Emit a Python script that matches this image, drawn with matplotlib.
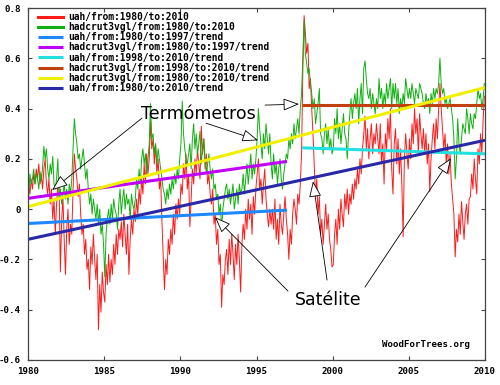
import numpy as np
import matplotlib
matplotlib.use("Agg")
import matplotlib.pyplot as plt

# uah monthly anomalies 1980-2009
uah = [
    0.10, 0.06, 0.12, 0.08, 0.14, 0.10, 0.16, 0.12, 0.18, 0.10, 0.14, 0.08,
    0.16, 0.20, 0.10, 0.06, 0.12, 0.02, 0.08, -0.04, 0.04, -0.10, 0.02, 0.10,
    0.10, -0.25, -0.05, 0.05, -0.12, -0.26, -0.08, 0.00, -0.14, -0.06, -0.10, 0.08,
    0.22, 0.16, 0.12, 0.05, 0.10, -0.02, -0.10, -0.06, -0.18, -0.12, -0.24, -0.20,
    -0.32, -0.15, -0.22, -0.10, -0.20, -0.28, -0.18, -0.48, -0.30, -0.41, -0.25, -0.33,
    -0.37, -0.22, -0.30, -0.18, -0.29, -0.20, -0.26, -0.14, -0.22, -0.10, -0.18, -0.08,
    -0.12, -0.05, -0.15, -0.02, -0.10, -0.18, -0.06, -0.26, -0.12, -0.04, -0.10, 0.00,
    -0.05, 0.04, -0.02, 0.08, 0.02, 0.12, 0.06, 0.18, 0.10, 0.22, 0.14, 0.20,
    0.35, 0.24, 0.28, 0.18, 0.26, 0.14, 0.20, 0.08, 0.12, -0.05, -0.18, -0.32,
    -0.20, -0.26, -0.12, -0.18, -0.08, -0.14, -0.02, -0.10, 0.02, -0.04, 0.04, -0.02,
    0.10, 0.06, 0.18, 0.12, 0.22, 0.08, 0.14, -0.07, 0.04, 0.16, 0.10, 0.20,
    0.14, 0.24, 0.18, 0.12, 0.33, 0.22, 0.28, 0.16, 0.22, 0.10, 0.14, 0.06,
    0.02, 0.08, -0.06, -0.02, -0.14, -0.08, -0.22, -0.18, -0.39, -0.26, -0.30, -0.20,
    -0.16, -0.26, -0.12, -0.22, -0.10, -0.18, -0.28, -0.14, -0.22, -0.10, -0.20, -0.33,
    -0.14, -0.06, -0.12, 0.00, -0.08, 0.04, -0.04, 0.02, -0.10, 0.05, -0.02, 0.08,
    0.14, 0.20, 0.08, 0.12, 0.02, 0.10, 0.16, 0.04, -0.02, -0.07, 0.00, -0.06,
    0.00, -0.08, 0.04, -0.12, -0.04, -0.14, 0.02, -0.06, -0.10, -0.02, 0.05, -0.04,
    -0.10, -0.20, -0.08, -0.14, -0.02, 0.04, 0.00, -0.06, 0.06, 0.02, 0.10, 0.22,
    0.55, 0.77, 0.70, 0.62, 0.66, 0.48, 0.52, 0.40, 0.30, 0.18, 0.05, 0.12,
    -0.02, 0.05, -0.10, -0.04, -0.14, -0.06, 0.02, -0.08, -0.02, -0.12, -0.16, -0.23,
    -0.22, -0.10, -0.04, -0.14, 0.00, -0.08, 0.04, -0.02, -0.07, 0.06, 0.00, 0.08,
    -0.02, 0.06, 0.02, 0.10, 0.04, 0.12, 0.08, 0.16, 0.10, 0.20, 0.14, 0.24,
    0.30, 0.37, 0.24, 0.32, 0.20, 0.28, 0.34, 0.22, 0.30, 0.26, 0.34, 0.28,
    0.22, 0.34, 0.18, 0.26, 0.10, 0.30, 0.24, 0.36, 0.28, 0.40, 0.16, 0.06,
    0.26, 0.32, 0.18, 0.28, 0.14, 0.24, 0.10, -0.11, 0.20, 0.30, 0.22, 0.16,
    0.28, 0.20, 0.34, 0.26, 0.40, 0.30, 0.36, 0.22, 0.38, 0.30, 0.24, 0.32,
    0.22, 0.30, 0.18, 0.26, 0.07, 0.20, 0.28, 0.34, 0.24, 0.36, 0.28, 0.40,
    0.50, 0.40, 0.32, 0.24, 0.30, 0.18, 0.26, 0.14, 0.22, 0.10, 0.04, -0.02,
    -0.19, -0.08, -0.13, -0.02, -0.10, 0.03, -0.05, -0.12, -0.02, 0.02, -0.06, 0.04,
    0.05, 0.14, 0.08, 0.20, 0.12, 0.06, 0.24, 0.18, 0.30, 0.22, 0.35, 0.45,
]

# hadcrut3vgl monthly anomalies 1980-2009
hadcrut = [
    0.05, 0.14, 0.10, 0.12, 0.16, 0.10, 0.14, 0.12, 0.08, 0.15, 0.11, 0.17,
    0.25, 0.20, 0.24, 0.16, 0.12, 0.18, 0.14, 0.21, 0.10, 0.08, 0.12, 0.20,
    0.04, 0.08, 0.02, 0.06, 0.10, 0.04, 0.08, 0.02, 0.10, 0.06, 0.12, 0.24,
    0.36, 0.30, 0.26, 0.20, 0.22, 0.16, 0.20, 0.24, 0.18, 0.12, 0.16, 0.08,
    0.02, 0.06, -0.02, 0.04, 0.00, -0.04, 0.02, -0.06, 0.00, -0.10, -0.06, -0.14,
    -0.27, -0.10, -0.04, 0.00, -0.06, 0.02, -0.04, 0.04, 0.00, -0.02, -0.08, 0.02,
    0.08, -0.02, 0.04, 0.08, 0.00, 0.06, 0.02, 0.04, -0.04, 0.06, 0.02, 0.00,
    0.04, 0.12, 0.08, 0.16, 0.10, 0.20, 0.24, 0.18, 0.22, 0.14, 0.20, 0.26,
    0.42, 0.28, 0.30, 0.22, 0.26, 0.18, 0.24, 0.20, 0.16, 0.12, 0.08, 0.06,
    0.02, 0.08, 0.04, 0.10, 0.06, 0.12, 0.08, 0.14, 0.10, 0.16, 0.12, 0.20,
    0.26, 0.43, 0.30, 0.24, 0.20, 0.18, 0.22, 0.26, 0.16, 0.28, 0.34, 0.24,
    0.30, 0.22, 0.26, 0.31, 0.18, 0.24, 0.28, 0.20, 0.14, 0.18, 0.22, 0.16,
    0.12, 0.16, 0.08, 0.10, 0.04, 0.06, -0.02, 0.02, -0.08, 0.00, 0.04, 0.08,
    0.10, 0.04, 0.08, 0.02, 0.06, 0.10, 0.00, 0.04, 0.08, 0.02, 0.10, 0.06,
    0.08, 0.14, 0.06, 0.12, 0.18, 0.10, 0.16, 0.22, 0.12, 0.18, 0.14, 0.20,
    0.28, 0.40, 0.32, 0.26, 0.20, 0.30, 0.24, 0.34, 0.28, 0.22, 0.30, 0.18,
    0.12, 0.22, 0.14, 0.18, 0.10, 0.16, 0.20, 0.12, 0.08, 0.14, 0.18, 0.22,
    0.20, 0.28, 0.24, 0.30, 0.26, 0.34, 0.28, 0.32, 0.36, 0.30, 0.40, 0.46,
    0.60, 0.75, 0.62, 0.58, 0.54, 0.56, 0.50, 0.46, 0.40, 0.44, 0.34, 0.38,
    0.42, 0.48, 0.30, 0.28, 0.22, 0.30, 0.34, 0.26, 0.32, 0.24, 0.28, 0.22,
    0.24, 0.36, 0.30, 0.40, 0.28, 0.34, 0.26, 0.32, 0.38, 0.30, 0.28, 0.20,
    0.30, 0.38, 0.44, 0.36, 0.42, 0.46, 0.40, 0.48, 0.34, 0.44, 0.50, 0.38,
    0.56, 0.59, 0.52, 0.46, 0.44, 0.48, 0.40, 0.46, 0.42, 0.38, 0.44, 0.40,
    0.52, 0.44, 0.48, 0.40, 0.46, 0.42, 0.50, 0.44, 0.48, 0.52, 0.40, 0.50,
    0.44, 0.50, 0.42, 0.48, 0.38, 0.44, 0.40, 0.46, 0.42, 0.52, 0.48, 0.44,
    0.48, 0.44, 0.50, 0.46, 0.42, 0.48, 0.46, 0.44, 0.50, 0.48, 0.46, 0.42,
    0.40, 0.46, 0.42, 0.44, 0.38, 0.46, 0.42, 0.48, 0.44, 0.48, 0.46, 0.50,
    0.60, 0.50, 0.46, 0.48, 0.42, 0.44, 0.40, 0.42, 0.44, 0.40, 0.36, 0.28,
    0.12, 0.20, 0.36, 0.26, 0.22, 0.28, 0.34, 0.32, 0.30, 0.40, 0.36, 0.30,
    0.38, 0.34, 0.32, 0.38, 0.36, 0.42, 0.48, 0.44, 0.46, 0.40, 0.44, 0.50,
]

# trend lines: (start year, end year, start value, end value)
trend_names = [
    "uah/from:1980/to:1997/trend",
    "hadcrut3vgl/from:1980/to:1997/trend",
    "uah/from:1998/to:2010/trend",
    "hadcrut3vgl/from:1998/to:2010/trend",
    "hadcrut3vgl/from:1980/to:2010/trend",
    "uah/from:1980/to:2010/trend",
]
trend_x0 = [1980, 1980, 1998, 1998, 1980, 1980]
trend_x1 = [1997, 1997, 2010, 2010, 2010, 2010]
trend_y0 = [-0.057, 0.043, 0.244, 0.414, 0.010, -0.120]
trend_y1 = [-0.004, 0.190, 0.220, 0.414, 0.484, 0.274]
trend_colors = ["#1e88ff", "#c000ff", "#20e0e0", "#c04010", "#f0f000", "#2828a8"]

xticks = [1980, 1985, 1990, 1995, 2000, 2005, 2010]
yticks = [-0.6, -0.4, -0.2, 0, 0.2, 0.4, 0.6, 0.8]
ytick_labels = ["-0.6", "-0.4", "-0.2", "0", "0.2", "0.4", "0.6", "0.8"]

mono = dict(family="DejaVu Sans Mono", weight="bold", size=6.6)
mono_leg = dict(family="DejaVu Sans Mono", weight="bold", size=6.9)

fig = plt.figure(figsize=(5, 3.85), dpi=100)
ax = fig.add_axes([0.056, 0.065, 0.914, 0.914])

t = 1980 + (np.arange(len(uah)) + 0.5) / 12.0
ax.plot(t, uah, color="#ff1a1a", lw=0.7, label="uah/from:1980/to:2010")
ax.plot(t, hadcrut, color="#10b010", lw=0.7, label="hadcrut3vgl/from:1980/to:2010")
for i in range(len(trend_names)):
    ax.plot([trend_x0[i], trend_x1[i]], [trend_y0[i], trend_y1[i]],
            color=trend_colors[i], lw=2.2, solid_capstyle="butt", label=trend_names[i])

ax.set_xlim(1980, 2010)
ax.set_ylim(-0.6, 0.8)
ax.set_xticks(xticks)
ax.set_xticklabels([str(x) for x in xticks], fontdict=mono)
ax.set_yticks(yticks)
ax.set_yticklabels(ytick_labels, fontdict=mono)
ax.tick_params(direction="in", length=3, width=0.8, color="#444444",
               top=True, right=True, pad=5)
for s in ax.spines.values():
    s.set_color("#444444")
    s.set_linewidth(0.9)

leg = ax.legend(loc="upper left", bbox_to_anchor=(0.013, 1.0), frameon=False,
                prop=mono_leg, handlelength=2.6, handletextpad=0.6,
                labelspacing=0.02, borderaxespad=0.2, borderpad=0.2)
for ln in leg.get_lines():
    ln.set_linewidth(2.2)

# annotations
arrow = dict(arrowstyle="-|>,head_length=0.9,head_width=0.35", fc="white",
             ec="black", lw=0.6, mutation_scale=11, shrinkA=0, shrinkB=0)
ax.text(1987.45, 0.36, "Termómetros", fontsize=12.5, family="DejaVu Sans",
        va="baseline")
ax.annotate("", xy=(1981.58, 0.076), xytext=(1987.48, 0.362), arrowprops=arrow)
ax.annotate("", xy=(1995.10, 0.274), xytext=(1991.69, 0.342), arrowprops=arrow)
ax.annotate("", xy=(1997.79, 0.418), xytext=(1995.56, 0.414), arrowprops=arrow)

ax.text(1997.55, -0.38, "Satélite", fontsize=12.5, family="DejaVu Sans",
        va="baseline")
ax.annotate("", xy=(1992.28, -0.032), xytext=(1997.07, -0.326), arrowprops=arrow)
ax.annotate("", xy=(1998.71, 0.111), xytext=(1999.63, -0.282), arrowprops=arrow)
ax.annotate("", xy=(2007.77, 0.203), xytext=(2002.12, -0.310), arrowprops=arrow)

ax.text(2009.0, -0.537, "WoodForTrees.org", ha="right", va="center", fontdict=mono)

fig.savefig("out.png", dpi=100, facecolor="white")
